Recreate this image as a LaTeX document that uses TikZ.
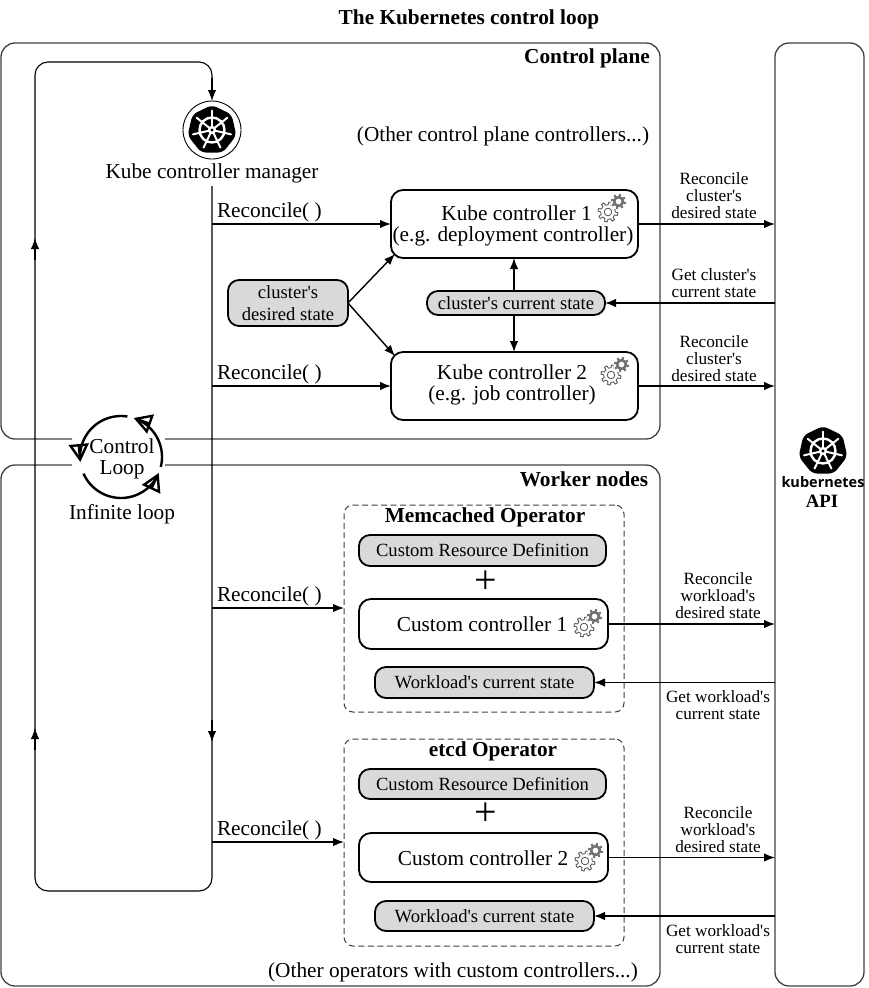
\documentclass[tikz,border=0pt]{standalone}
\usepackage{fontspec}
\setmainfont[Ligatures=TeXOff]{Liberation Serif}
\newfontfamily\logofont{Open Sans}
\usetikzlibrary{arrows.meta,calc}
\definecolor{boxgray}{HTML}{D9D9D9}
\definecolor{regionline}{HTML}{404040}
\tikzset{
  x=1pt,y=-1pt,
  every node/.style={inner sep=0pt,outer sep=0pt,align=center,font=\fontsize{21.3}{21}\selectfont},
  region/.style={draw=regionline,line width=1.3pt,rounded corners=14pt},
  flow/.style={draw=black,line width=1.4pt,-{Latex[length=11pt,width=8.5pt]}},
  loopline/.style={draw=black,line width=1.1pt,rounded corners=13pt},
  whitebox/.style={draw=black,line width=1.8pt,fill=white,rounded corners=12pt},
  graybox/.style={draw=black,line width=1.8pt,fill=boxgray,rounded corners=11pt},
  dashbox/.style={draw=regionline,line width=1pt,dash pattern=on 6pt off 3.5pt,rounded corners=9pt},
  small/.style={font=\fontsize{17.2}{17}\selectfont},
  mid/.style={font=\fontsize{18.6}{22}\selectfont},
  ctitle/.style={font=\bfseries\fontsize{21.3}{23}\selectfont},
  cycle arrow/.style={line width=2.4pt,-{Triangle[open,length=18pt,width=20pt,line width=2.4pt]}},
  wheelmark/.pic={
    \fill[black,rounded corners=5pt] (270:25)--(321.43:25)--(12.86:25)--(64.29:25)--(115.71:25)--(167.14:25)--(218.57:25)--cycle;
    \draw[white,line width=2.4pt] (0,0) circle (12.5);
    \foreach \a in {0,1,...,6}{
      \draw[white,line width=2pt,line cap=round] (270+\a*51.43:3) -- (270+\a*51.43:19.5);
    }
    \fill[white] (0,0) circle (4.2);
    \fill[black] (0,0) circle (1.6);
  },
  gearmark/.pic={
    \draw[black!70,fill=white,line width=.8pt] plot[domain=0:360,samples=73] (\x:{7.2+2.8*(sin(8*\x)>0)}) -- cycle;
    \draw[black!70,line width=.8pt] (0,0) circle (3.8);
    \fill[white] (9,-9) circle (6.5);
    \begin{scope}[shift={(10.5,-10.5)}]
      \fill[black!55] plot[domain=0:360,samples=73] (\x:{5.4+2.2*(sin(8*\x)>0)}) -- cycle;
      \fill[white] (0,0) circle (2.8);
    \end{scope}
  },
}
\begin{document}
\begin{tikzpicture}
\useasboundingbox (0,0) rectangle (868,988);

% regions
\draw[region] (72,439) -| (1,43) -| (660,439) -- (165,439);
\draw[region] (72,465) -| (1,986) -| (660,465) -- (165,465);
\node[draw=regionline,line width=1.3pt,rounded corners=14pt,minimum width=89pt,minimum height=943pt] (api) at (819.5,514.5) {};

% title and region labels
\node[ctitle] (title) at (469,19) {The Kubernetes control loop};
\node[ctitle] (cplabel) at (587,58) {Control plane};
\node[ctitle] (wnlabel) at (584,479) {Worker nodes};
\node (otherctl) at (503,136) {(Other control plane controllers...)};
\node (otherop) at (453,972) {(Other operators with custom controllers...)};

% manager
\node[draw=black,line width=.9pt,circle,minimum size=58pt] (mgrlogo) at (212,130) {};
\pic at (212,130) {wheelmark};
\node[anchor=north,minimum height=26pt] (mgr) at (212,160) {Kube controller manager};

% api logo
\pic at (823,451) {wheelmark};
\node[font=\logofont\bfseries\fontsize{14.5}{16}\selectfont] (apikube) at (823,482) {kubernetes};
\node[font=\bfseries\fontsize{18.8}{20}\selectfont] (apilabel) at (822,501) {API};

% kube controllers
\node[whitebox,minimum width=247pt,minimum height=68pt] (kc1) at (514.5,224) {};
\node (kc1t) at (513,226) {\phantom{(}Kube controller 1\\(e.g. deployment controller)};
\node[whitebox,minimum width=247pt,minimum height=68pt] (kc2) at (514.5,386) {};
\node (kc2t) at (512,385) {Kube controller 2\\(e.g. job controller)};
\pic at (608,212) {gearmark};
\pic at (611,375) {gearmark};

\node[graybox,mid,minimum width=120pt,minimum height=46pt] (desired) at (288,303) {cluster's\\desired state};
\node[graybox,mid,minimum width=178pt,minimum height=24pt] (current) at (516,303) {cluster's current state};

% memcached operator
\node[dashbox,minimum width=280pt,minimum height=207pt] (op1) at (484,608.5) {};
\node[ctitle] (op1t) at (485,517) {Memcached Operator};
\node[graybox,mid,minimum width=247pt,minimum height=31pt] (crd1) at (482.5,550.5) {Custom Resource Definition};
\node[font=\fontsize{40}{40}\selectfont] (plus1) at (485.5,582) {+};
\node[whitebox,minimum width=249pt,minimum height=50pt] (cc1) at (483.5,624) {};
\node (cc1t) at (482,624) {Custom controller 1};
\node[graybox,mid,minimum width=219pt,minimum height=31pt] (wcs1) at (484.5,682.5) {Workload's current state};
\pic at (584,627) {gearmark};

% etcd operator
\node[dashbox,minimum width=280pt,minimum height=207pt] (op2) at (484,842.5) {};
\node[ctitle] (op2t) at (493,751) {etcd Operator};
\node[graybox,mid,minimum width=247pt,minimum height=30pt] (crd2) at (482.5,784) {Custom Resource Definition};
\node[font=\fontsize{40}{40}\selectfont] (plus2) at (485.5,814) {+};
\node[whitebox,minimum width=249pt,minimum height=49pt] (cc2) at (483.5,857.5) {};
\node (cc2t) at (483,858) {Custom controller 2};
\node[graybox,mid,minimum width=219pt,minimum height=30pt] (wcs2) at (484.5,916) {Workload's current state};
\pic at (585,861) {gearmark};

% control loop
\draw[loopline] (mgr.south) -- (212,891) -- (35,891) -- (35,62) -- (212,62) -- (212,84);
\coordinate (looptop) at (212,78);
\draw[flow,line width=1.1pt] (looptop) -- (mgrlogo.north);
\coordinate (loopupa) at (35,260);
\coordinate (loopupa2) at (35,238);
\draw[flow,line width=1.1pt] (loopupa) -- (loopupa2);
\coordinate (loopupb) at (35,750);
\coordinate (loopupb2) at (35,728);
\draw[flow,line width=1.1pt] (loopupb) -- (loopupb2);
\coordinate (loopdn) at (212,720);
\coordinate (loopdn2) at (212,742);
\draw[flow,line width=1.1pt] (loopdn) -- (loopdn2);

% loop arrows
\draw[cycle arrow] plot[domain=-81:-187,samples=30] ({121+41*cos(\x)},{457+41*sin(\x)});
\draw[cycle arrow] plot[domain=156:23,samples=30] ({121+41*cos(\x)},{457+41*sin(\x)});
\draw[cycle arrow] plot[domain=14:-72,samples=30] ({121+41*cos(\x)},{457+41*sin(\x)});
\node (looplabel) at (122,459) {Control\\Loop};
\node (infinite) at (122,514) {Infinite loop};

% reconcile arrows
\coordinate (r1) at (212,224);
\coordinate (r2) at (212,386);
\coordinate (r3) at (212,608);
\coordinate (r4) at (212,842);
\draw[flow] (r1) -- (kc1.west);
\draw[flow] (r2) -- (kc2.west);
\draw[flow] (r3) -- (r3 -| op1.west);
\draw[flow] (r4) -- (r4 -| op2.west);
\node[anchor=west] (rl1) at (217,212) {Reconcile( )};
\node[anchor=west] (rl2) at (217,374) {Reconcile( )};
\node[anchor=west] (rl3) at (217,596) {Reconcile( )};
\node[anchor=west] (rl4) at (217,830) {Reconcile( )};

% state arrows
\draw[flow] (desired.east) -- ($(kc1.south west)+(4,-4)$);
\draw[flow] (desired.east) -- ($(kc2.north west)+(4,4)$);
\draw[flow] (current.north -| 514,0) -- (kc1.south -| 514,0);
\draw[flow] (current.south -| 514,0) -- (kc2.north -| 514,0);

% api arrows
\draw[flow] (kc1.east) -- (kc1.east -| api.west);
\draw[flow] (kc2.east) -- (kc2.east -| api.west);
\draw[flow] (current.east -| api.west) -- (current.east);
\draw[flow] (cc1.east) -- (cc1.east -| api.west);
\draw[flow] (cc2.east) -- (cc2.east -| api.west);
\draw[flow] (wcs1.east -| api.west) -- (wcs1.east);
\draw[flow] (wcs2.east -| api.west) -- (wcs2.east);

% api labels
\node[small] (al1) at (714,196) {Reconcile\\cluster's\\desired state};
\node[small] (al2) at (714,283) {Get cluster's\\current state};
\node[small] (al3) at (714,359) {Reconcile\\cluster's\\desired state};
\node[small] (al4) at (718,596) {Reconcile\\workload's\\desired state};
\node[small] (al5) at (718,705) {Get workload's\\current state};
\node[small] (al6) at (718,830) {Reconcile\\workload's\\desired state};
\node[small] (al7) at (718,939) {Get workload's\\current state};
\end{tikzpicture}
\end{document}
